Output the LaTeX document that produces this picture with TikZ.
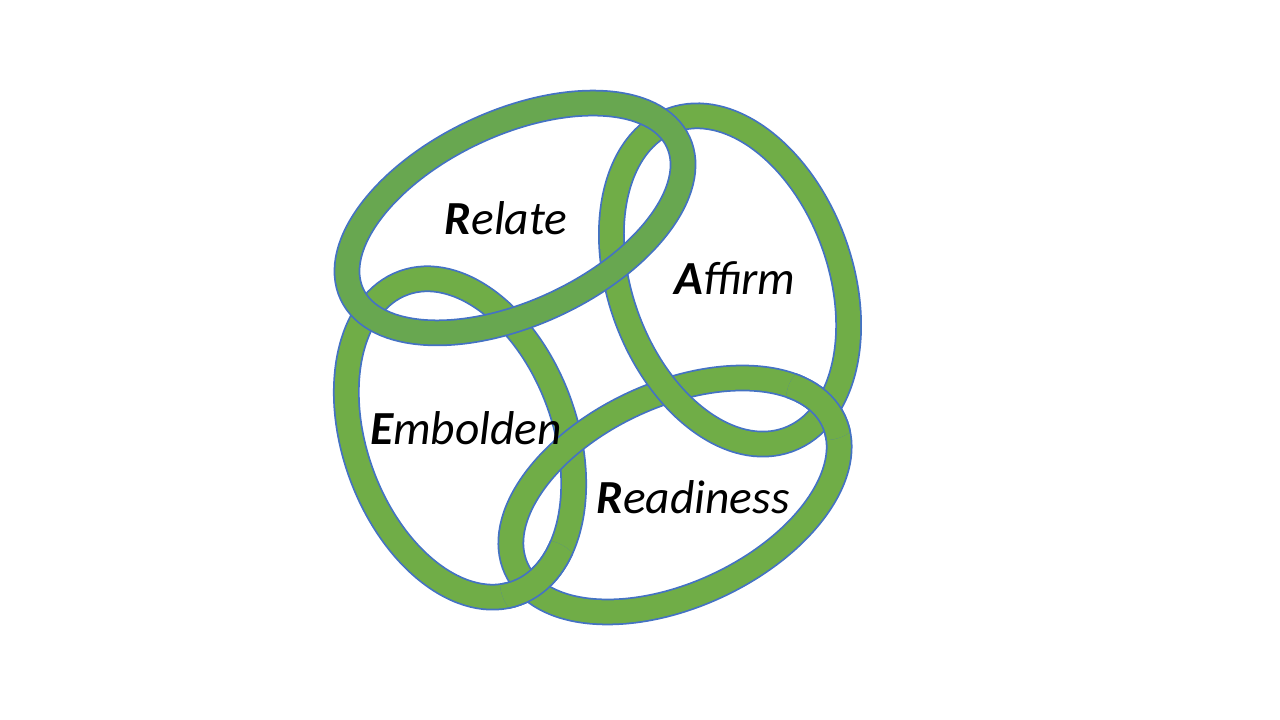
\documentclass[tikz,border=0pt]{standalone}
\usepackage{fontspec}
\setmainfont{Carlito}
\usepackage{tikz}
\usetikzlibrary{positioning, calc}
\definecolor{ringgreen}{HTML}{70AD47}
\definecolor{ringdark}{HTML}{68A750}
\definecolor{ringline}{HTML}{4472C4}

\begin{document}
\begin{tikzpicture}
        \tikzset{
            ringedge/.style={draw=ringline, line width=7.6pt},
            ringband/.style={draw=ringgreen, line width=6.6pt},
            darkband/.style={draw=ringdark, line width=6.6pt},
            word/.style={font=\fontsize{13.5}{15}\selectfont\itshape}
        }
        \useasboundingbox (0,0) rectangle (12.8,7.2);

        % --- CENTRES ---
        \coordinate (cRel) at (5.15,5.02);
        \coordinate (cAff) at (7.30,4.40);
        \coordinate (cEmb) at (4.60,2.82);
        \coordinate (cRea) at (6.75,2.25);

        % --- RINGS (back) ---
        \foreach \c/\a/\b/\r in {cEmb/1.65/1.05/110, cRea/1.75/1.0/25, cAff/1.70/1.10/110}{
            \draw[ringedge, rotate around={\r:(\c)}] (\c) ellipse (\a cm and \b cm);
            \draw[ringband, rotate around={\r:(\c)}] (\c) ellipse (\a cm and \b cm);
        }

        % --- OVER CROSSINGS ---
        \begin{scope}
            \clip (5.42,1.38) circle (0.42);
            \draw[ringedge, rotate around={110:(cEmb)}] (cEmb) ellipse (1.65cm and 1.05cm);
            \draw[ringband, rotate around={110:(cEmb)}] (cEmb) ellipse (1.65cm and 1.05cm);
        \end{scope}
        \begin{scope}
            \clip (8.26,3.20) circle (0.40);
            \draw[ringedge, rotate around={25:(cRea)}] (cRea) ellipse (1.75cm and 1.0cm);
            \draw[ringband, rotate around={25:(cRea)}] (cRea) ellipse (1.75cm and 1.0cm);
        \end{scope}

        % --- TOP RING ---
        \draw[ringedge, rotate around={25:(cRel)}] (cRel) ellipse (1.80cm and 0.95cm);
        \draw[darkband, rotate around={25:(cRel)}] (cRel) ellipse (1.80cm and 0.95cm);

        % --- LABELS ---
        \node[word] (relate) at (5.06,5.02) {\textbf{R}elate};
        \node[word] (affirm) at (7.35,4.42) {\textbf{A}ffirm};
        \node[word] (embolden) at (4.66,2.92) {\textbf{E}mbolden};
        \node[word] (readiness) at (6.93,2.23) {\textbf{R}eadiness};

    \end{tikzpicture}
\end{document}
